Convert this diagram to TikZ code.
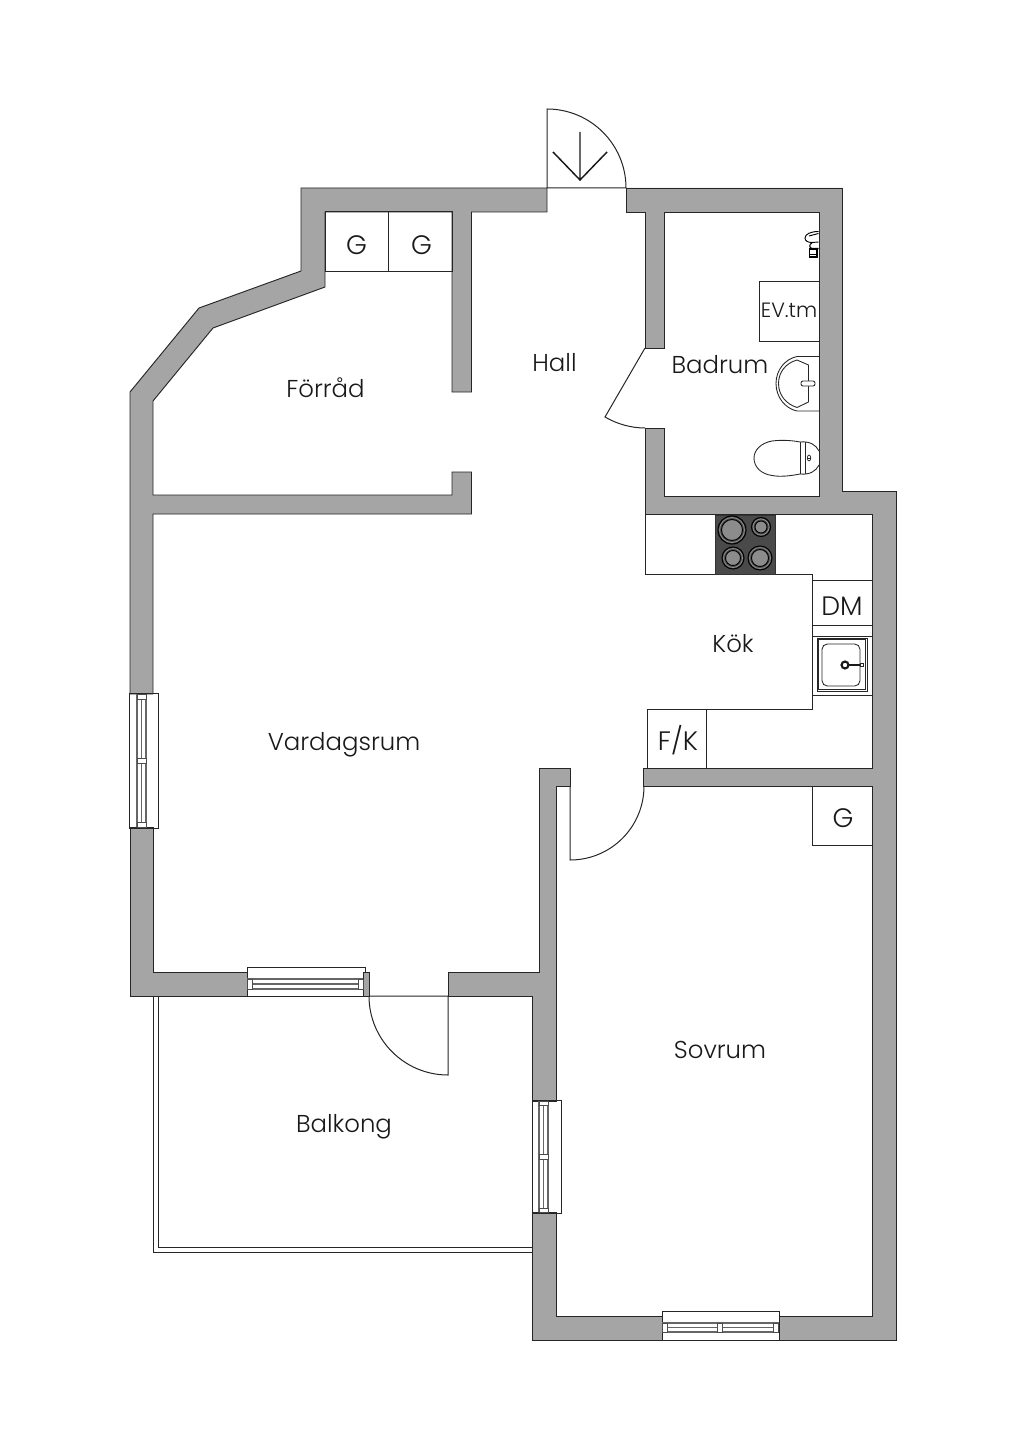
\documentclass[tikz,border=0pt]{standalone}
\usepackage{fontspec}
\setmainfont{Poppins Light}
\definecolor{wallgray}{HTML}{A5A5A5}
\definecolor{hobgray}{HTML}{4A4A4A}
\definecolor{ringgray}{HTML}{8C8C8C}
\tikzset{
  wallshape/.style={fill=wallgray,draw=black!85,line width=0.7pt,line join=miter},
  fine/.style={draw=black!85,line width=0.75pt},
  railline/.style={draw=black!60,line width=0.8pt},
  endpiece/.style={draw=black!70,fill=white,line width=0.7pt},
  room/.style={font=\fontsize{18.3}{22}\selectfont,text=black!90,inner sep=0pt,anchor=base},
  boxlabel/.style={room,font=\fontsize{20}{24}\selectfont},
  burner/.style={draw=black,fill=ringgray,line width=0.7pt},
  burnerring/.style={draw=ringgray,line width=0.6pt},
  burnerouter/.style={draw=black,line width=0.8pt},
  fixture/.style={draw=black!85,line width=0.65pt,fill=white}
}
\begin{document}
\begin{tikzpicture}[x=0.75pt,y=-0.75pt]
\useasboundingbox (0,0) rectangle (1024,1448);
\fill[white] (0,0) rectangle (1024,1448);
% balcony rail
\draw[fine] (153,996) -- (153,1252.5) -- (532,1252.5);
\draw[fine] (158.5,996) -- (158.5,1247) -- (532,1247);
% walls
\draw[wallshape] (547,188) -- (301,188) -- (301,271) -- (199,308) -- (130,392) -- (130,694) -- (153,694) -- (153,514) -- (471.5,514) -- (471.5,472) -- (452,472) -- (452,495) -- (153,495) -- (153,401) -- (213,328) -- (325,287) -- (325,212) -- (452,212) -- (452,392) -- (471.5,392) -- (471.5,212) -- (547,212) -- cycle;
\draw[wallshape] (130,827) -- (153,827) -- (153,972) -- (247,972) -- (247,996) -- (130,996) -- cycle;
\draw[wallshape] (363,972) -- (369,972) -- (369,996) -- (363,996) -- cycle;
\draw[wallshape] (448,972) -- (539,972) -- (539,768) -- (570,768) -- (570,786) -- (556,786) -- (556,1101) -- (532,1101) -- (532,996) -- (448,996) -- cycle;
\draw[wallshape] (532,1212) -- (556,1212) -- (556,1316) -- (662,1316) -- (662,1340) -- (532,1340) -- cycle;
\draw[wallshape] (626,188) -- (842,188) -- (842,491) -- (896,491) -- (896,1340) -- (779,1340) -- (779,1316) -- (872,1316) -- (872,786) -- (643.5,786) -- (643.5,768) -- (872,768) -- (872,514.5) -- (645,514.5) -- (645,428) -- (664,428) -- (664,496) -- (819,496) -- (819,212) -- (664,212) -- (664,348) -- (645,348) -- (645,212) -- (626,212) -- cycle;
% left window
\draw[fine] (129.5,693.5) rectangle (158.5,828);
\foreach \x in {137,141.5,146} \draw[railline] (\x,694) -- (\x,827);
\foreach \a/\b in {694/699,758/763,822/827} \draw[endpiece] (137,\a) rectangle (146,\b);
% bottom window
\draw[fine] (247,996) -- (247,967) -- (365,967) -- (365,972);
\draw[fine] (247,996) -- (363,996);
\foreach \y in {979,984,989} \draw[railline] (247,\y) -- (363,\y);
\foreach \a/\b in {247/252,358.5/363} \draw[endpiece] (\a,979) rectangle (\b,989);
% balcony window
\draw[fine] (532,1100.5) -- (561,1100.5) -- (561,1213.5) -- (532,1213.5) -- cycle;
\foreach \x in {539,543.5,548} \draw[railline] (\x,1101) -- (\x,1212);
\foreach \a/\b in {1101/1105,1154/1159,1208/1212} \draw[endpiece] (539,\a) rectangle (548,\b);
% bedroom window
\draw[fine] (662,1340) -- (662,1311) -- (779,1311) -- (779,1340) -- cycle;
\foreach \y in {1323,1327.5,1332} \draw[railline] (662,\y) -- (779,\y);
\foreach \a/\b in {662/667,717/722,773/778} \draw[endpiece] (\a,1323) rectangle (\b,1332);
% entry door
\coordinate (entryL) at (547,188);
\coordinate (entryR) at (626,188);
\draw[fine] (entryR) -- (entryL) -- (547,109) .. controls (590.6,109) and (626,144.4) .. (entryR);
\draw[draw=black!90,line width=1.1pt] (580,132) -- (580,180) (553,152) -- (580,180) -- (607,152);
% balcony door
\draw[fine] (369,996) -- (448,996) -- (448,1075) .. controls (404.4,1075) and (369,1039.6) .. (369,996);
% bath door
\draw[fine] (645,348) -- (605,417) .. controls (617,424) and (631,428) .. (645,428);
% bedroom door
\draw[fine] (570,786) -- (570,860) .. controls (611,860) and (644,827) .. (644,786);
% G boxes upper
\draw[fine] (325,212) rectangle (388,271) (388,212) rectangle (452,271);
% kitchen
\draw[fine] (645,515) -- (645,574) -- (812.5,574) -- (812.5,709) -- (647,709) -- (647,768);
\draw[fine] (706,709) -- (706,768);
\draw[fine] (812.5,580) -- (872,580) (812.5,625) -- (872,625) (812.5,636) -- (872,636) (812.5,695) -- (872,695);
\draw[fine] (812.5,786) -- (812.5,845) -- (872,845);
% hob
\fill[hobgray,draw=black!80,line width=0.6pt] (715,515) rectangle (775,574);
\foreach \cx/\cy/\r in {732/530/14,761/527/9.5,733/558/11,760/558/12}{
  \draw[burnerouter] (\cx,\cy) circle (\r*0.75pt);
  \draw[burnerring] (\cx,\cy) circle ({(\r-1.5)*0.75pt});
  \draw[burner] (\cx,\cy) circle ({(\r-3.5)*0.75pt});
}
% sink
\draw[fine,line width=0.65pt] (817,638) rectangle (867,691);
\draw[fine,line width=0.65pt] (818.5,639.5) rectangle (865.5,689.5);
\draw[fine,line width=0.65pt,rounded corners=4pt] (822,644) rectangle (860,686);
\draw[draw=black!90,line width=1.6pt] (845,665) circle (2.6pt);
\draw[draw=black!90,line width=1pt] (848,665) -- (861,665);
\draw[fixture] (860,663.5) rectangle (863,666.5);
% shower
\draw[draw=black,line width=0.7pt] (818.5,231.5) .. controls (811,231.5) and (805,234) .. (805,238) .. controls (805,241) and (808,242.5) .. (812,242.5) -- (818.5,242);
\draw[draw=black,line width=0.7pt] (809,236) -- (818.5,233.5);
\draw[draw=black,line width=0.8pt] (812,243) .. controls (809,244) and (809,248) .. (812,248.5) -- (818.5,248.5);
\draw[draw=black,line width=0.85pt] (809.5,249) rectangle (817,257);
\draw[draw=black,line width=0.7pt] (809.5,254) -- (817,254);
% wash basin
\draw[fine,line width=0.65pt] (819,356.5) -- (797,356.5) .. controls (785,359) and (776,370) .. (776,383.5) .. controls (776,397) and (785,408.5) .. (797,411) -- (819,411);
\draw[fine,line width=0.65pt] (808.5,365) -- (808.5,402) -- (797,407.5) .. controls (786,404) and (778.5,395) .. (778.5,383.5) .. controls (778.5,372) and (786,363) .. (797,360) -- cycle;
\draw[fixture,rounded corners=1.5pt] (801,381) rectangle (815,386);
% toilet
\draw[fine,line width=0.65pt] (800,442) .. controls (790,440) and (780,440) .. (772,441) .. controls (761,443) and (754,450) .. (754,458) .. controls (754,467) and (761,474) .. (772,475.5) .. controls (780,477) and (790,476) .. (800,474);
\draw[fine,line width=0.65pt] (800,442) -- (800,474) (805,442) -- (805,474);
\draw[fine,line width=0.65pt] (800,442) .. controls (810,441) and (816,445) .. (819,451) (800,474) .. controls (810,475) and (816,471) .. (819,465);
\draw[fine,line width=0.55pt] (809,458) ellipse (1.3pt and 2.2pt);
\draw[fine,line width=0.55pt] (807.3,458) -- (810.7,458);
% EV box
\draw[fine] (819,281) -- (759,281) -- (759,341) -- (819,341);
% labels
\node[room] (hall) at (554.5,371) {Hall};
\node[room] (badrum) at (720,373) {Badrum};
\node[room] (forrad) at (325.5,397) {Förråd};
\node[room] (vardagsrum) at (344,750) {Vardagsrum};
\node[room] (kok) at (733,652) {Kök};
\node[room] (sovrum) at (720,1058) {Sovrum};
\node[room] (balkong) at (344,1132) {Balkong};
\node[boxlabel] (g1) at (356.5,254) {G};
\node[boxlabel] (g2) at (421.5,254) {G};
\node[boxlabel] (g3) at (843,827) {G};
\node[boxlabel] (dm) at (842,615) {DM};
\node[boxlabel] (fk) at (678,750) {F/K};
\node[room,font=\fontsize{15.5}{18}\selectfont] (ev) at (789,317) {EV.tm};
\end{tikzpicture}
\end{document}
